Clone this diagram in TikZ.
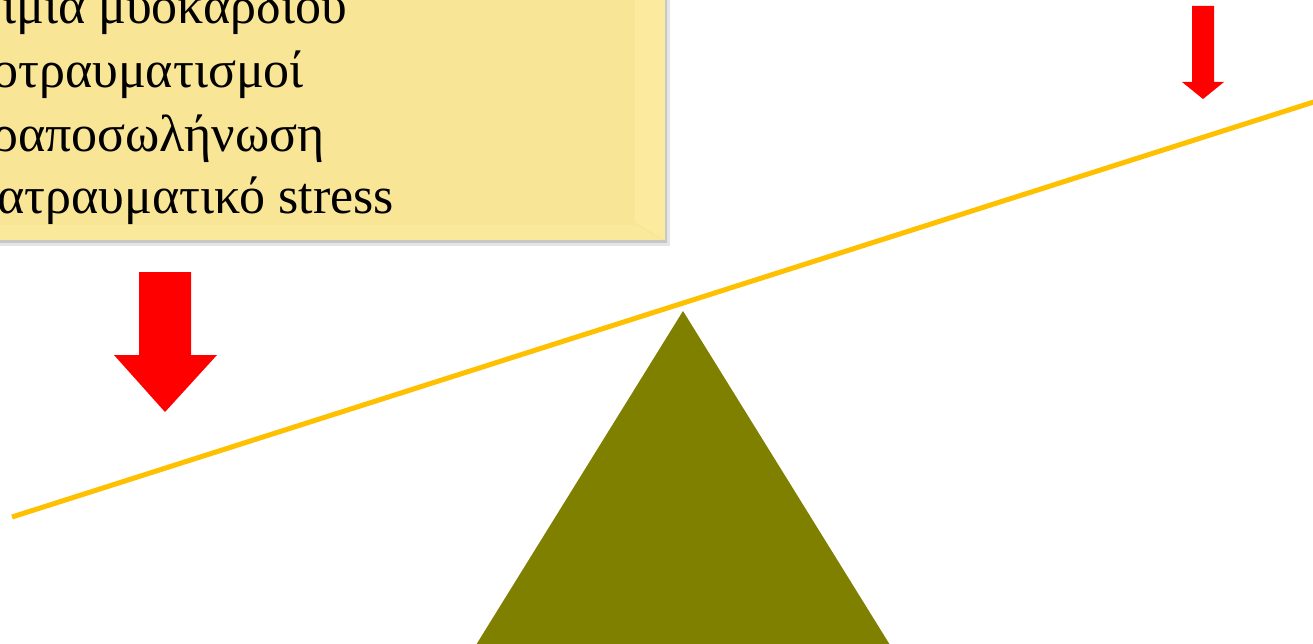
\documentclass[tikz,border=0pt]{standalone}
\usepackage{fontspec}
\setmainfont{Liberation Serif}
\definecolor{boxyellow}{RGB}{249,229,150}
\definecolor{bevel}{RGB}{252,235,158}
\definecolor{beam}{RGB}{255,192,0}
\definecolor{olivetri}{RGB}{128,128,0}
\definecolor{arrowred}{RGB}{255,0,0}
\tikzset{
  redarrow/.style={fill=arrowred, draw=none},
  listtext/.style={anchor=base west, inner sep=0pt, font=\fontsize{52}{63}\selectfont}
}
\begin{document}
\begin{tikzpicture}[x=1pt,y=-1pt]
\useasboundingbox (0,0) rectangle (1313,644);
\clip (0,0) rectangle (1313,644);
% text box with shadow
\fill[black!10] (-20,-20) rectangle (670,246);
\fill[black!22] (-20,-20) rectangle (667,243);
\fill[boxyellow] (-20,-20) rectangle (665,240);
\fill[bevel] (635,-20) -- (665,-20) -- (665,240) -- (635,222) -- cycle;
\fill[bevel!60!boxyellow] (-20,225) -- (635,225) -- (662,240) -- (-20,240) -- cycle;
\node[listtext] (l1) at (2,24) {ιμία μυοκαρδίου};
\node[listtext] (l2) at (-8,88) {οτραυματισμοί};
\node[listtext] (l3) at (-8,152) {ραποσωλήνωση};
\node[listtext] (l4) at (-3,214) {ατραυματικό stress};
% fulcrum
\fill[olivetri] (683,311) -- (890,645) -- (476,645) -- cycle;
% beam
\coordinate (bl) at (12,517);
\coordinate (br) at (1320,100);
\draw[beam, line width=5pt] (bl) -- (br);
% arrows
\fill[redarrow] (139,272) -- (191,272) -- (191,355) -- (217,355) -- (165,412) -- (114,355) -- (139,355) -- cycle;
\fill[redarrow] (1192,6) -- (1214,6) -- (1214,82) -- (1224,82) -- (1203,99) -- (1182,82) -- (1192,82) -- cycle;
\end{tikzpicture}
\end{document}
